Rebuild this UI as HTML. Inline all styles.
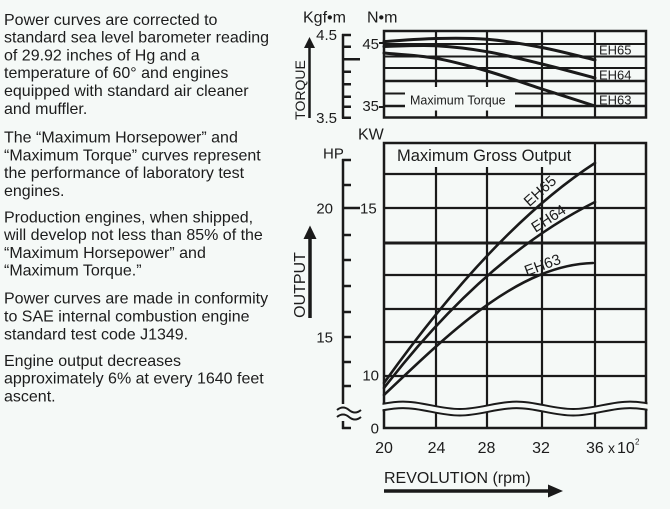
<!DOCTYPE html>
<html>
<head>
<meta charset="utf-8">
<style>
  html,body{margin:0;padding:0;background:#f5f9f7;}
  svg{display:block;}
  text{font-family:"Liberation Sans", Arial, sans-serif;fill:#1c1c1c;}
</style>
</head>
<body>
<svg width="670" height="509" viewBox="0 0 670 509" xmlns="http://www.w3.org/2000/svg">
  <rect x="0" y="0" width="670" height="509" fill="#f5f9f7"/>

  <!-- Left text -->
  <g font-size="16">
    <text x="4" y="24.8">Power curves are corrected to</text>
    <text x="4" y="42.6">standard sea level barometer reading</text>
    <text x="4" y="60.4">of 29.92 inches of Hg and a</text>
    <text x="4" y="78.2">temperature of 60° and engines</text>
    <text x="4" y="96">equipped with standard air cleaner</text>
    <text x="4" y="113.8">and muffler.</text>

    <text x="4" y="142.5">The “Maximum Horsepower” and</text>
    <text x="4" y="160.3">“Maximum Torque” curves represent</text>
    <text x="4" y="178.1">the performance of laboratory test</text>
    <text x="4" y="195.9">engines.</text>

    <text x="4" y="222.3">Production engines, when shipped,</text>
    <text x="4" y="240.1">will develop not less than 85% of the</text>
    <text x="4" y="257.9">“Maximum Horsepower” and</text>
    <text x="4" y="275.7">“Maximum Torque.”</text>

    <text x="4" y="303.7">Power curves are made in conformity</text>
    <text x="4" y="321.5">to SAE internal combustion engine</text>
    <text x="4" y="339.3">standard test code J1349.</text>

    <text x="4" y="365.8">Engine output decreases</text>
    <text x="4" y="383.6">approximately 6% at every 1640 feet</text>
    <text x="4" y="401.4">ascent.</text>
  </g>

  <!-- ================= TORQUE CHART ================= -->
  <text x="303" y="22.7" font-size="16">Kgf•m</text>
  <text x="367" y="22.7" font-size="16">N•m</text>
  <text x="337" y="40" font-size="15" text-anchor="end">4.5</text>
  <text x="337" y="123" font-size="15" text-anchor="end">3.5</text>
  <text x="379" y="49" font-size="15" text-anchor="end">45</text>
  <text x="379" y="111" font-size="15" text-anchor="end">35</text>

  <!-- torque arrow and label -->
  <line x1="309.5" y1="118" x2="309.5" y2="46" stroke="#1a1a1a" stroke-width="2.5"/>
  <polygon points="304,48 309.5,37 315,48" fill="#1a1a1a"/>
  <text transform="translate(305,90) rotate(-90)" font-size="14" text-anchor="middle">TORQUE</text>

  <!-- Kgf axis -->
  <g stroke="#1a1a1a" stroke-width="2.5" fill="none">
    <line x1="343" y1="34" x2="343" y2="118.5"/>
    <path d="M342 35H351M342 46.7H351M342 59.3H360M342 71.7H351M342 84.3H351M342 96.7H351M342 106.7H351M342 117.7H351"/>
    <path d="M379 43H384M379 107H384" stroke-width="2"/>
  </g>

  <!-- torque grid -->
  <g stroke="#1a1a1a" fill="none">
    <path d="M384 44H646M384 56.5H646M384 68H646M384 93.5H646" stroke-width="2"/>
    <path d="M384 81H646M384 106H646" stroke-width="2.6"/>
    <path d="M436 31V117.5M487 31V117.5M542 31V117.5M595 31V117.5" stroke-width="2.2"/>
    <rect x="384" y="31" width="262" height="86.5" stroke-width="2.5"/>
  </g>
  <rect x="405" y="87" width="110" height="23.5" fill="#f5f9f7"/>
  <text x="410" y="104.5" font-size="12.5">Maximum Torque</text>

  <!-- torque curves -->
  <g stroke="#1a1a1a" stroke-width="3" fill="none" stroke-linecap="round">
    <path d="M384 41.5 C392.7 41 418.8 38.9 436 38.5 C453.2 38.1 469.3 37.8 487 39.3 C504.7 40.8 524 44 542 47.5 C560 51 586.2 57.9 595 60"/>
    <path d="M384 46.5 C392.7 46.4 418.8 44.9 436 45.8 C453.2 46.7 469.3 48.7 487 51.7 C504.7 54.7 524 59.6 542 64 C560 68.4 586.2 75.7 595 78"/>
    <path d="M384 53 C392.7 53.9 418.8 55.3 436 58.3 C453.2 61.3 469.3 65.9 487 71 C504.7 76.1 524 83.2 542 89 C560 94.8 586.2 103.2 595 106"/>
  </g>
  <g font-size="13">
    <text x="599" y="54.5">EH65</text>
    <text x="599" y="79.5">EH64</text>
    <text x="599" y="104.5">EH63</text>
  </g>

  <!-- ================= OUTPUT CHART ================= -->
  <text x="358" y="139.5" font-size="16">KW</text>
  <text x="323" y="158.5" font-size="15">HP</text>
  <text x="333" y="213.5" font-size="15" text-anchor="end">20</text>
  <text x="360" y="213.5" font-size="15">15</text>
  <text x="333" y="342.5" font-size="15" text-anchor="end">15</text>
  <text x="379" y="380.5" font-size="15" text-anchor="end">10</text>
  <text x="379" y="433.5" font-size="15" text-anchor="end">0</text>

  <!-- output arrow and label -->
  <line x1="310" y1="318" x2="310" y2="236" stroke="#1a1a1a" stroke-width="3.5"/>
  <polygon points="303.5,239 310,225.5 316.5,239" fill="#1a1a1a"/>
  <text transform="translate(305,285) rotate(-90)" font-size="16" text-anchor="middle">OUTPUT</text>

  <!-- HP axis -->
  <g stroke="#1a1a1a" stroke-width="2.5" fill="none">
    <line x1="343" y1="159" x2="343" y2="404"/>
    <path d="M342 160H351M342 185H351M342 208H360M342 235H351M342 260H351M342 286H351M342 312H351M342 337H351M342 362H351M342 386H351"/>
    <path d="M337 410 q6 -5 12 0 t12 0" stroke-width="2"/>
    <path d="M337 417 q6 -5 12 0 t12 0" stroke-width="2"/>
    <line x1="343" y1="421" x2="343" y2="429"/>
    <path d="M342 428H351"/>
  </g>

  <!-- output grid -->
  <g stroke="#1a1a1a" fill="none">
    <path d="M384 174H646M384 208H646M384 275H646M384 309H646M384 342H646M384 376H646" stroke-width="2.2"/>
    <path d="M384 243H646" stroke-width="3"/>
    <path d="M436 167V428M487 167V428M542 167V428M595 143V428" stroke-width="2.2"/>
    <rect x="384" y="143" width="262" height="285" stroke-width="2.5"/>
  </g>

  <!-- wave break -->
  <defs>
    <clipPath id="cw"><rect x="382.5" y="390" width="265" height="35"/></clipPath>
  </defs>
  <g clip-path="url(#cw)" fill="none">
    <path d="M346.25,412.25 C366.7,412.25 382.6,404.85 403,404.85 C423.4,404.85 439.3,412.25 459.75,412.25 C480.2,412.25 496.1,404.85 516.5,404.85 C536.9,404.85 552.8,412.25 573.25,412.25 C593.7,412.25 609.6,404.85 630,404.85 C650.4,404.85 666.3,412.25 686.75,412.25" stroke="#f5f9f7" stroke-width="6.5"/>
    <path d="M346.25,409 C366.7,409 382.6,401.6 403,401.6 C423.4,401.6 439.3,409 459.75,409 C480.2,409 496.1,401.6 516.5,401.6 C536.9,401.6 552.8,409 573.25,409 C593.7,409 609.6,401.6 630,401.6 C650.4,401.6 666.3,409 686.75,409" stroke="#1a1a1a" stroke-width="2"/>
    <path d="M346.25,415.5 C366.7,415.5 382.6,408.1 403,408.1 C423.4,408.1 439.3,415.5 459.75,415.5 C480.2,415.5 496.1,408.1 516.5,408.1 C536.9,408.1 552.8,415.5 573.25,415.5 C593.7,415.5 609.6,408.1 630,408.1 C650.4,408.1 666.3,415.5 686.75,415.5" stroke="#1a1a1a" stroke-width="2"/>
  </g>

  <text x="397" y="161" font-size="16.5">Maximum Gross Output</text>

  <!-- output curves (smooth) -->
  <g stroke="#1a1a1a" stroke-width="2.6" fill="none" stroke-linecap="round">
    <path d="M384 383 C454 285 525 208.5 595 163"/>
    <path d="M384 388 C454 297 525 237 595 202"/>
    <path d="M384 395 C454 328.5 520 265 593 263"/>
  </g>
  <g font-size="15" text-anchor="middle">
    <text transform="translate(540,191) rotate(-42)" y="5">EH65</text>
    <text transform="translate(548.5,218.5) rotate(-33)" y="5">EH64</text>
    <text transform="translate(542.5,265) rotate(-20)" y="5">EH63</text>
  </g>

  <!-- x axis labels -->
  <g font-size="16">
    <text x="384" y="452.8" text-anchor="middle">20</text>
    <text x="436.5" y="452.8" text-anchor="middle">24</text>
    <text x="486.5" y="452.8" text-anchor="middle">28</text>
    <text x="541" y="452.8" text-anchor="middle">32</text>
    <text x="586" y="452.8">36</text>
    <text x="608" y="452.8" font-size="14">x</text>
    <text x="617" y="452.8">10</text>
    <text x="635" y="444.5" font-size="8">2</text>
    <text x="384" y="483">REVOLUTION (rpm)</text>
  </g>
  <line x1="384" y1="491" x2="551" y2="491" stroke="#1a1a1a" stroke-width="3.5"/>
  <polygon points="548,484.5 563,491 548,497.5" fill="#1a1a1a"/>
</svg>
</body>
</html>
